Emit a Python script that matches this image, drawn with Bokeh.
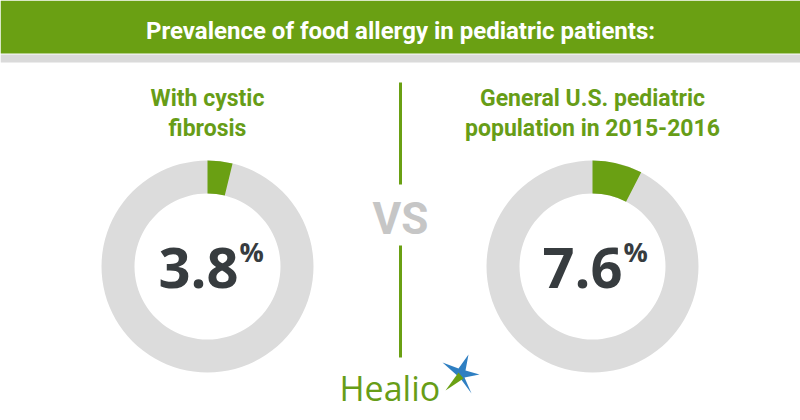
import math
from bokeh.plotting import figure
from bokeh.models import Range1d
from bokeh.core.properties import value
from bokeh.embed import file_html
from bokeh.resources import INLINE

W, H = 800, 420

# ---- data ----
title = "Prevalence of food allergy in pediatric patients:"
groups = ["With cystic\nfibrosis", "General U.S. pediatric\npopulation in 2015-2016"]
values = [3.8, 7.6]
value_labels = ["3.8", "7.6"]

# ---- style / layout ----
GREEN = "#6aa013"
TEXT_GREEN = "#679d17"
RING_GRAY = "#dcdcdc"
DARK = "#373c3f"
VS_GRAY = "#c6c6c6"
BLUE = "#2f7fc2"

centers_x = [207, 592]
center_y_px = 266
outer_r, inner_r = 106, 73
num_right_x = [238, 622]
num_base_px = 267

def Y(px):
    return H - px

p = figure(width=W, height=H, x_range=Range1d(0, W), y_range=Range1d(0, H),
           output_backend="svg", toolbar_location=None, min_border=0)
p.axis.visible = False
p.grid.visible = False
p.outline_line_color = None
p.background_fill_color = "white"
p.border_fill_color = "white"

# header banner
p.quad(left=[0], right=[W], top=[Y(0)], bottom=[Y(53)], fill_color=GREEN, line_color=None)
p.quad(left=[0], right=[W], top=[Y(54)], bottom=[Y(62)], fill_color="#dadada", line_color=None)
p.text(x=[W / 2], y=[Y(30)], text=[title], text_color="white",
       text_font=value("Roboto"), text_font_style="bold",
       text_font_size="24px", text_align="center", text_baseline="alphabetic")

# group labels
p.text(x=centers_x, y=[Y(113)] * 2, text=groups, text_color=TEXT_GREEN,
       text_font=value("Roboto"), text_font_style="bold", text_font_size="23px",
       text_align="center", text_baseline="alphabetic", text_line_height=1.13)

# donuts
cy = [Y(center_y_px)] * 2
p.annular_wedge(x=centers_x, y=cy, inner_radius=inner_r, outer_radius=outer_r,
                inner_radius_units="screen", outer_radius_units="screen",
                start_angle=[0, 0], end_angle=[2 * math.pi - 1e-6] * 2,
                fill_color=RING_GRAY, line_color=None)
starts = [math.pi / 2 - v / 100 * 2 * math.pi for v in values]
p.annular_wedge(x=centers_x, y=cy, inner_radius=inner_r, outer_radius=outer_r,
                inner_radius_units="screen", outer_radius_units="screen",
                start_angle=starts, end_angle=[math.pi / 2] * 2,
                fill_color=GREEN, line_color=None)

# numbers
p.text(x=num_right_x, y=[Y(num_base_px)] * 2, text=value_labels, text_color=DARK,
       text_font=value("Open Sans"), text_font_style="bold", text_font_size="56px",
       text_align="right", text_baseline="alphabetic")
p.text(x=[x + 1 for x in num_right_x], y=[Y(num_base_px - 16)] * 2, text=["%", "%"],
       text_color=DARK, text_font=value("Open Sans"), text_font_style="bold",
       text_font_size="27px", text_align="left", text_baseline="alphabetic")

# divider and VS
p.segment(x0=[400, 400], y0=[Y(82), Y(245)], x1=[400, 400], y1=[Y(184), Y(357)],
          line_color=GREEN, line_width=3)
p.text(x=[400], y=[Y(218)], text=["VS"], text_color=VS_GRAY,
       text_font=value("Roboto"), text_font_style="bold", text_font_size="44px",
       text_align="center", text_baseline="alphabetic")

# Healio logo
p.text(x=[339], y=[Y(387)], text=["Healio"], text_color=TEXT_GREEN,
       text_font=value("Open Sans"), text_font_size="34px",
       text_align="left", text_baseline="alphabetic")
sx = [442, 458, 468, 465, 479, 464, 471, 460]
sy = [362, 368, 354, 370, 374, 377, 393, 378]
p.patch(x=sx, y=[Y(v) for v in sy], fill_color=BLUE, line_color=None)
p.patch(x=[458, 463, 445], y=[Y(372), Y(378), Y(390)], fill_color=GREEN, line_color=None)

open("out.html", "w").write(file_html(p, INLINE))
